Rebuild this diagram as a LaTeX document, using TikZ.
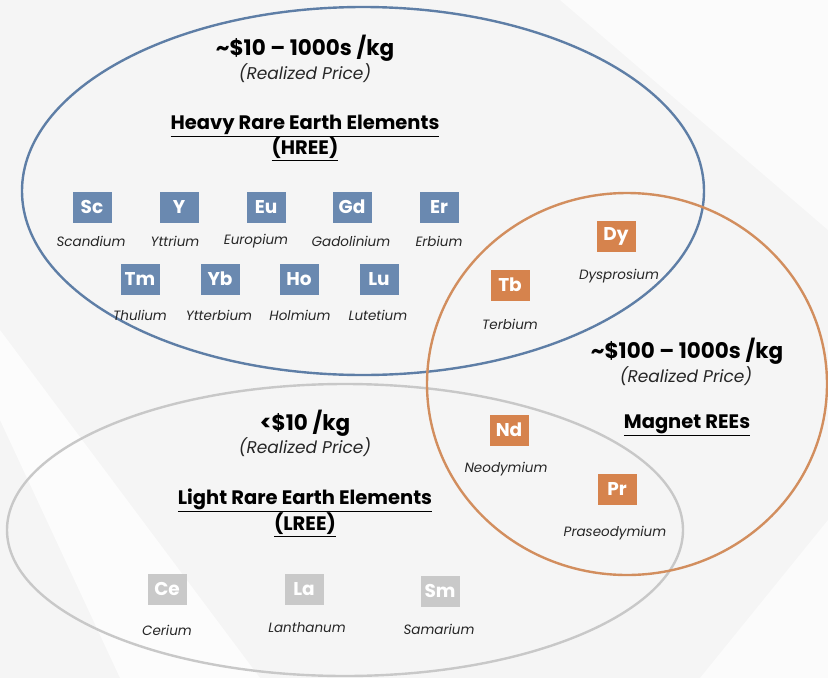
\documentclass[tikz,border=0pt]{standalone}
\usepackage{fontspec}
\setmainfont{Poppins}
\definecolor{bluree}{HTML}{6A89B0}
\definecolor{blulin}{HTML}{5E7EA6}
\definecolor{orree}{HTML}{D6834D}
\definecolor{orlin}{HTML}{D28E5E}
\definecolor{grree}{HTML}{C9C9C9}
\definecolor{grlin}{HTML}{C8C8C8}
\definecolor{bgree}{HTML}{F5F5F5}
\tikzset{
  elbox/.style={minimum width=39pt,minimum height=31pt,inner sep=0pt,text=white,font=\fontsize{18.5}{18.5}\selectfont\bfseries},
  hbox/.style={elbox,fill=bluree},
  mbox/.style={elbox,fill=orree},
  lbox/.style={elbox,fill=grree},
  elname/.style={inner sep=0pt,font=\fontsize{13.5}{13.5}\selectfont\itshape,text=black!85},
  price/.style={inner sep=0pt,font=\fontsize{21.5}{21.5}\selectfont\bfseries},
  realized/.style={inner sep=0pt,font=\fontsize{17}{17}\selectfont\itshape,text=black!85},
  grptitle/.style={inner sep=0pt,align=center,font=\fontsize{19.5}{25}\selectfont\bfseries}
}
\begin{document}
\begin{tikzpicture}[x=1pt,y=-1pt]
\useasboundingbox (0,0) rectangle (828,678);
\fill[bgree] (0,0) rectangle (828,678);
\fill[white,opacity=.7] (0,420) -- (120,678) -- (260,678) -- (0,330) -- cycle;
\fill[white,opacity=.6] (560,0) -- (828,0) -- (828,230) -- (700,120) -- cycle;
\fill[white,opacity=.6] (700,678) -- (828,520) -- (828,678) -- cycle;
\draw[blulin,line width=2.4pt] (363,191) ellipse [x radius=341,y radius=184];
\draw[grlin,line width=2.4pt] (345,530) ellipse [x radius=338,y radius=146];
\draw[orlin,line width=2.4pt] (627,384) ellipse [x radius=200,y radius=191];
\node[price] (hprice) at (305,48) {\char"7E\$10 -- 1000s /kg};
\node[realized] (hreal) at (305,73) {(Realized Price)};
\node[grptitle] (htitle) at (305,138) {\underline{Heavy Rare Earth Elements}\\\underline{(HREE)}};
\node[hbox] (sc) at (92,207) {Sc};
\node[hbox] (y) at (179,207) {Y};
\node[hbox] (eu) at (266,207) {Eu};
\node[hbox] (gd) at (352,207) {Gd};
\node[hbox] (er) at (439,207) {Er};
\node[elname] (scn) at (91,241) {Scandium};
\node[elname] (yn) at (175,241) {Yttrium};
\node[elname] (eun) at (256,241) {Europium};
\node[elname] (gdn) at (351,241) {Gadolinium};
\node[elname] (ern) at (439,241) {Erbium};
\node[hbox] (tm) at (140,279) {Tm};
\node[hbox] (yb) at (220,279) {Yb};
\node[hbox] (ho) at (299,279) {Ho};
\node[hbox] (lu) at (379,279) {Lu};
\node[elname] (tmn) at (140,315) {Thulium};
\node[elname] (ybn) at (219,315) {Ytterbium};
\node[elname] (hon) at (300,315) {Holmium};
\node[elname] (lun) at (378,315) {Lutetium};
\node[mbox] (dy) at (616,236) {Dy};
\node[elname] (dyn) at (619,276) {Dysprosium};
\node[mbox] (tb) at (510,285) {Tb};
\node[elname] (tbn) at (510,324) {Terbium};
\node[price] (mprice) at (687,351) {\char"7E\$100 -- 1000s /kg};
\node[realized] (mreal) at (686,376) {(Realized Price)};
\node[grptitle] (mtitle) at (687,425) {\underline{Magnet REEs}};
\node[mbox] (nd) at (509,430) {Nd};
\node[elname] (ndn) at (506,469) {Neodymium};
\node[mbox] (pr) at (617,489) {Pr};
\node[elname] (prn) at (615,533) {Praseodymium};
\node[price] (lprice) at (305,423) {<\$10 /kg};
\node[realized] (lreal) at (305,447) {(Realized Price)};
\node[grptitle] (ltitle) at (305,513) {\underline{Light Rare Earth Elements}\\\underline{(LREE)}};
\node[lbox] (ce) at (167,589) {Ce};
\node[lbox] (la) at (304,589) {La};
\node[lbox] (sm) at (440,591) {Sm};
\node[elname] (cen) at (167,630) {Cerium};
\node[elname] (lan) at (307,628) {Lanthanum};
\node[elname] (smn) at (439,629) {Samarium};
\end{tikzpicture}
\end{document}
